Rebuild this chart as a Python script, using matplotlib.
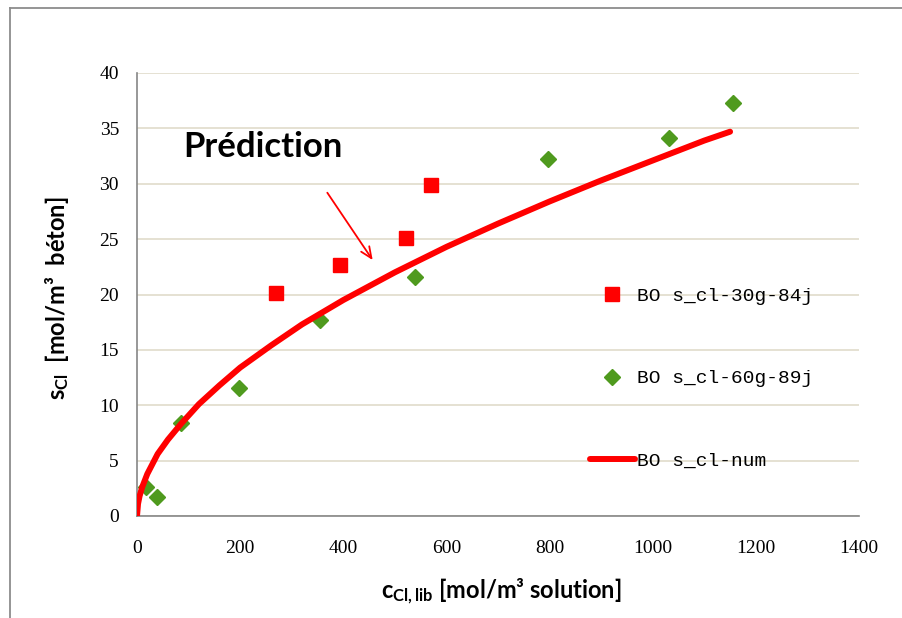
import numpy as np
import matplotlib
matplotlib.use("Agg")
import matplotlib.pyplot as plt
from matplotlib.lines import Line2D

# data
x_30g = [269, 394, 522, 571]
y_30g = [20.1, 22.7, 25.1, 29.9]

x_60g = [18, 39, 86, 197, 355, 540, 797, 1031, 1156]
y_60g = [2.6, 1.7, 8.4, 11.6, 17.7, 21.6, 32.2, 34.1, 37.3]

x_num = [0, 2, 5, 10, 20, 40, 60, 85, 120, 160, 200, 260, 320, 400,
         500, 600, 700, 800, 900, 1000, 1100, 1150]
y_num = [0, 1.1, 1.8, 2.6, 3.8, 5.6, 6.9, 8.3, 10.1, 11.8, 13.4, 15.4, 17.3, 19.5,
         22.0, 24.3, 26.4, 28.4, 30.3, 32.1, 33.9, 34.7]

labels = ["BO s_cl-30g-84j", "BO s_cl-60g-89j", "BO s_cl-num"]
xticks = [0, 200, 400, 600, 800, 1000, 1200, 1400]
yticks = [0, 5, 10, 15, 20, 25, 30, 35, 40]

plt.rcParams['mathtext.fontset'] = 'custom'
plt.rcParams['mathtext.rm'] = 'Lato:bold'
plt.rcParams['mathtext.it'] = 'Lato:bold'
plt.rcParams['mathtext.bf'] = 'Lato:bold'

red = '#FF0000'
green = '#4F9A1E'
grid_col = '#E0DCCB'
spine_col = '#868686'

fig = plt.figure(figsize=(9.03, 6.18), dpi=100)
ax = fig.add_axes([137 / 903, 1 - 516 / 618, (859 - 137) / 903, (516 - 73) / 618])

l1, = ax.plot(x_30g, y_30g, 's', color=red, ms=10, mec=red, zorder=3)
l2, = ax.plot(x_60g, y_60g, 'D', color=green, ms=8, mec=green, zorder=3)
l3, = ax.plot(x_num, y_num, '-', color=red, lw=4.3, solid_capstyle='round', zorder=4)

ax.set_xlim(0, 1400)
ax.set_ylim(0, 40)
ax.set_xticks(xticks)
ax.set_yticks(yticks)
ax.yaxis.grid(True, color=grid_col, lw=1.2)
ax.set_axisbelow(True)
for s in ['top', 'right']:
    ax.spines[s].set_visible(False)
for s in ['left', 'bottom']:
    ax.spines[s].set_color(spine_col)
    ax.spines[s].set_linewidth(1.2)
ax.tick_params(axis='both', length=0, labelsize=14)
ax.tick_params(axis='y', pad=13)
ax.tick_params(axis='x', pad=17)
for lab in ax.get_xticklabels() + ax.get_yticklabels():
    lab.set_fontfamily('Liberation Serif')

# axis titles, placed where they sit in the picture
fig.text(501 / 903, 1 - 592 / 618, r'$\mathrm{c_{Cl,lib}}$ [mol/m³ solution]',
         fontfamily='Lato', fontweight='bold', fontsize=17, ha='center', va='center')
fig.text(57 / 903, 1 - 298 / 618, r'$\mathrm{s_{Cl}}$  [mol/m³  béton]',
         fontfamily='Lato', fontweight='bold', fontsize=17, ha='center', va='center',
         rotation=90)

ax.text(90, 33.3, 'Prédiction', fontfamily='Lato', fontweight='bold',
        fontsize=25, ha='left', va='center')
ax.annotate('', xy=(460, 22.9), xytext=(366, 29.4),
            arrowprops=dict(arrowstyle='->,head_length=0.8,head_width=0.35',
                            color=red, lw=1.3))

leg = ax.legend([l1, l2, l3], labels, loc='upper left',
                bbox_to_anchor=(590 / 903, 1 - 287 / 618),
                bbox_transform=fig.transFigure, frameon=False,
                prop={'family': 'Liberation Mono', 'size': 14},
                handlelength=2.3, handletextpad=0.1, labelspacing=3.35,
                borderaxespad=0, borderpad=0)

# outer frame of the chart area
fig.add_artist(Line2D([10 / 903, 1], [1 - 8 / 618, 1 - 8 / 618],
                      transform=fig.transFigure, color='#8C8C8C', lw=1.3))
fig.add_artist(Line2D([10 / 903, 10 / 903], [0, 1 - 8 / 618],
                      transform=fig.transFigure, color='#8C8C8C', lw=1.3))

fig.savefig('out.png', dpi=100)
